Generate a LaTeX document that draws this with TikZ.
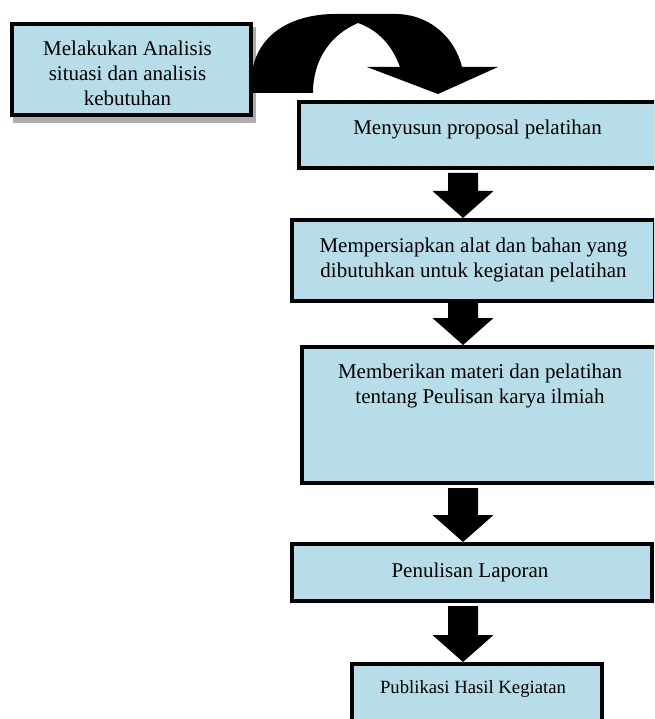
\documentclass[tikz,border=0pt]{standalone}
\usepackage{fontspec}
\setmainfont{Liberation Serif}
\usetikzlibrary{calc}
\definecolor{boxfill}{RGB}{183,221,232}
\tikzset{
  box/.style={draw=black, line width=4pt, fill=boxfill, inner sep=0pt},
  lbl/.style={anchor=base, inner sep=0pt, align=center, font=\fontsize{21}{25}\selectfont},
  lblsmall/.style={anchor=base, inner sep=0pt, align=center, font=\fontsize{18.7}{22}\selectfont},
  blockarrow/.style={fill=black},
  shadowbox/.style={fill=black!32}
}
\begin{document}
\begin{tikzpicture}[x=1pt,y=-1pt]
\useasboundingbox (0,0) rectangle (654,719);
\clip (0,0) rectangle (654,719);
\fill[white] (0,0) rectangle (654,719);
% shadow of first box
\fill[shadowbox] (13,27) rectangle (256,123);
% boxes
\node[box, minimum width=239pt, minimum height=91pt] (b1) at (131.5,69.5) {};
\node[box, minimum width=357pt, minimum height=66pt] (b2) at (477.5,135) {};
\node[box, minimum width=363pt, minimum height=81pt] (b3) at (473.5,260.5) {};
\node[box, minimum width=356pt, minimum height=136pt] (b4) at (480,415) {};
\node[box, minimum width=360pt, minimum height=57pt] (b5) at (472,572.5) {};
\node[box, minimum width=250pt, minimum height=84pt] (b6) at (477,706) {};
% texts (base anchor = baseline of the last line)
\node[lbl] (t1) at (127.5,106) {Melakukan Analisis\\situasi dan analisis\\kebutuhan};
\node[lbl] (t2) at (477.5,135) {Menyusun proposal pelatihan};
\node[lbl] (t3) at (473.5,277) {Mempersiapkan alat dan bahan yang\\dibutuhkan untuk kegiatan pelatihan};
\node[lbl] (t4) at (480,403) {Memberikan materi dan pelatihan\\tentang Peulisan karya ilmiah};
\node[lbl] (t5) at (470,577) {Penulisan Laporan};
\node[lblsmall] (t6) at (473,693) {Publikasi Hasil Kegiatan};
% curved block arrow from b1 to b2
\fill[blockarrow] (253,67) .. controls (262,28) and (300,14) .. (335,14) -- (395,14)
  .. controls (430,14) and (455,38) .. (462,67) -- (498,67) -- (438,94) -- (367,67) -- (400,67)
  .. controls (392,45) and (378,30) .. (358,23)
  .. controls (330,35) and (313,60) .. (313,93) -- (253,93) -- cycle;
% straight block arrows
\coordinate (ax) at (463,0);
\foreach \a/\b/\g in {b2/b3/3, b3/b4/0, b4/b5/3, b5/b6/3}{
  \path (\a.south -| ax) coordinate (s) (\b.north -| ax) coordinate (t);
  \fill[blockarrow] ($(s)+(-15,\g)$) -- ($(t)+(-15,-27)$) -- ($(t)+(-30.5,-27)$) -- (t)
    -- ($(t)+(30.5,-27)$) -- ($(t)+(15,-27)$) -- ($(s)+(15,\g)$) -- cycle;
}
\end{tikzpicture}
\end{document}
